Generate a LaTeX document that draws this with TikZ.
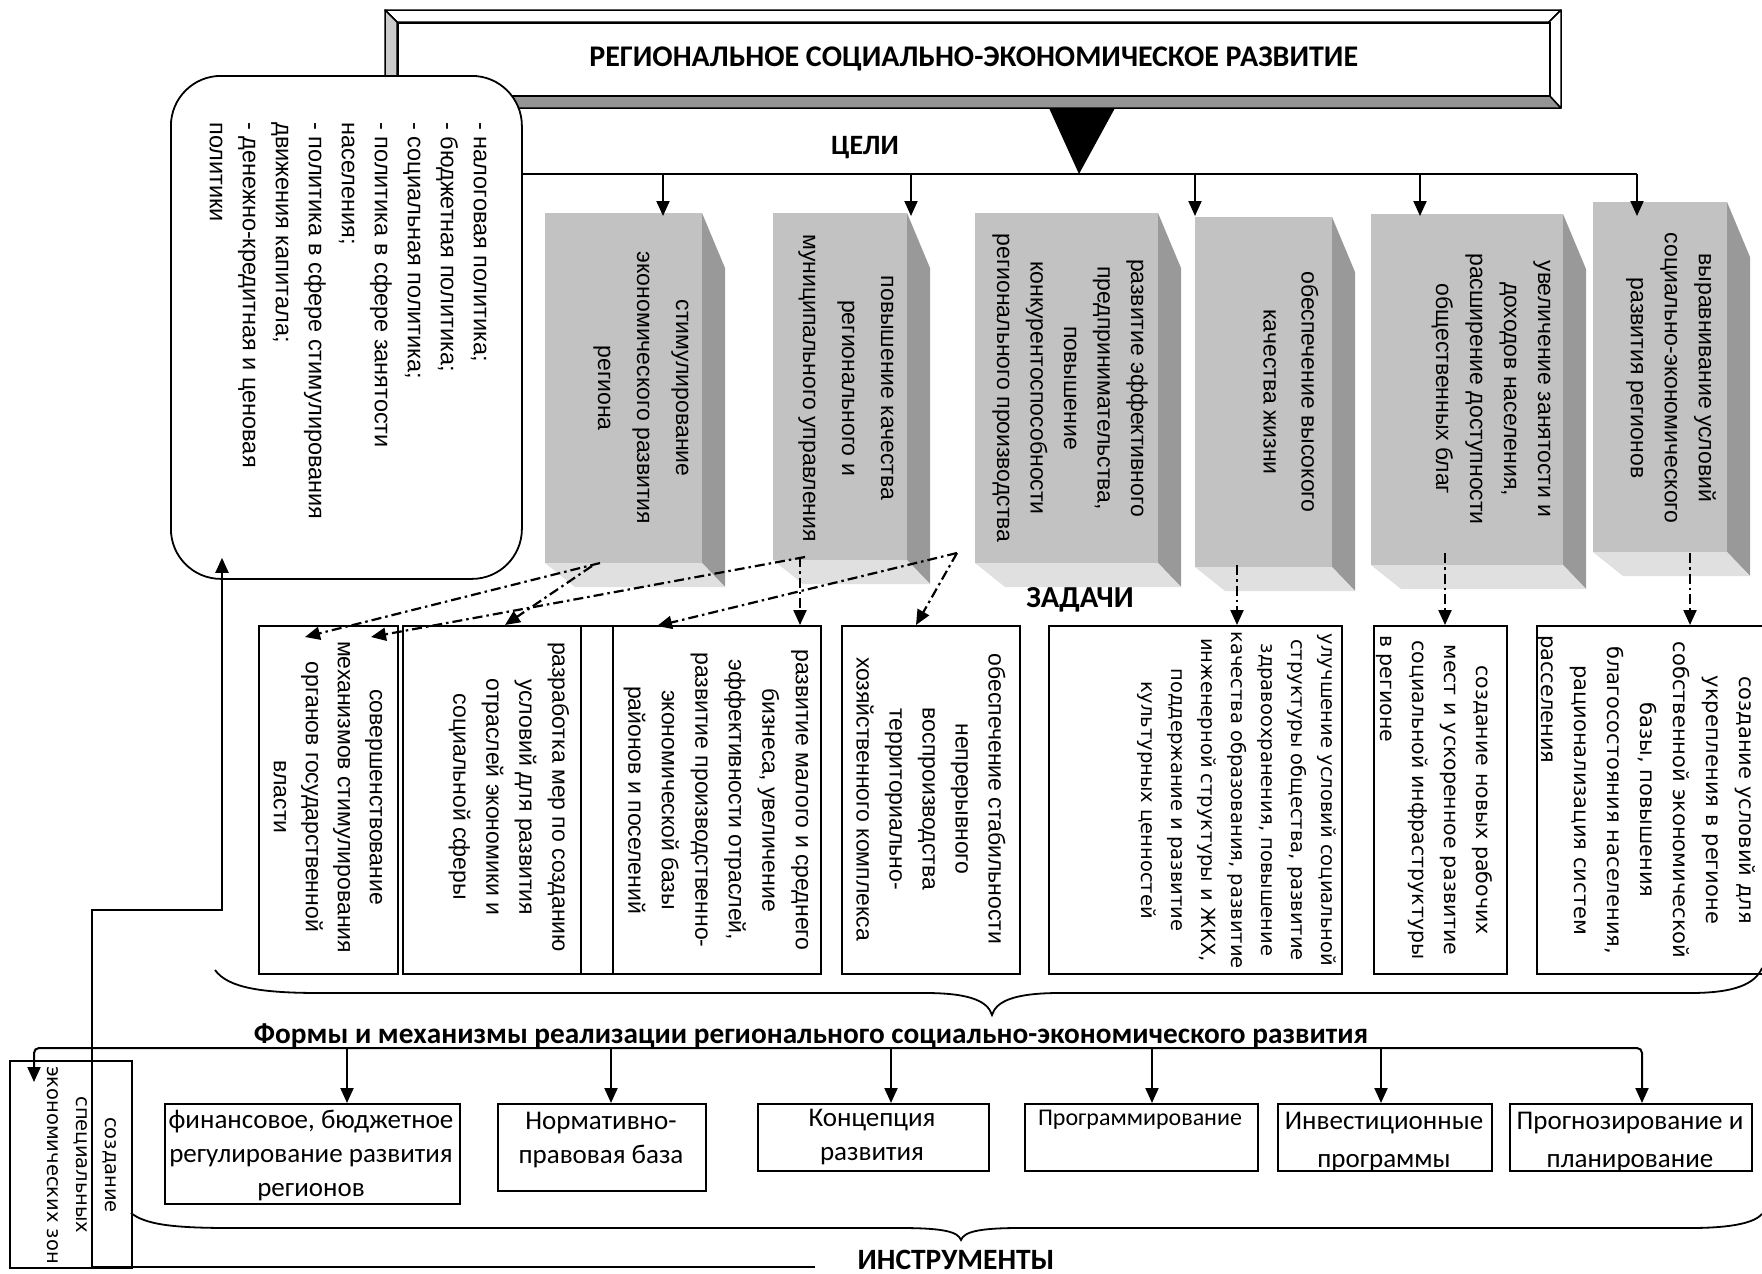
\documentclass[tikz,border=0pt]{standalone}
\usepackage{fontspec}
\setmainfont{Liberation Sans}
\newfontfamily\dvfont{DejaVu Sans}
\newfontfamily\cbfont{Carlito}
\usetikzlibrary{arrows.meta,calc}
\definecolor{gfr}{gray}{0.76}
\definecolor{gsd}{gray}{0.60}
\definecolor{gbt}{gray}{0.88}
\definecolor{bvl}{gray}{0.80}
\definecolor{bvd}{gray}{0.58}
\newcommand{\gbox}[5]{%
  \fill[gsd] (#4,#3) -- ++(23,55) -- (#4+23,#5+24) -- (#4,#5) -- cycle;
  \fill[gbt] (#2,#5) -- (#4,#5) -- (#4+23,#5+24) -- (#2+30,#5+24) -- cycle;
  \node[gfront, anchor=north west, minimum width={(#4-#2)*1pt}, minimum height={(#5-#3)*1pt}] (#1) at (#2,#3) {};
}
\begin{document}
\begin{tikzpicture}[x=1pt,y=-1pt,
  ln/.style={line width=2pt},
  arr/.style={line width=2pt,-{Triangle[length=15pt,width=13pt]}},
  dd/.style={line width=2.2pt, dash pattern=on 10pt off 4pt on 2.5pt off 4pt, -{Triangle[length=15pt,width=13pt]}},
  gfront/.style={fill=gfr, inner sep=0pt, outer sep=0pt},
  taskbox/.style={draw, line width=1.8pt, anchor=north west, inner sep=0pt},
  formbox/.style={draw, line width=1.8pt, anchor=north west, inner sep=0pt},
  rtxt/.style={rotate=-90, align=center, inner sep=0pt},
  hdr/.style={font=\cbfont\bfseries\fontsize{29.5}{31}\selectfont, inner sep=0pt, anchor=base},
  ftxt/.style={align=center, inner sep=0pt, font=\cbfont\fontsize{27}{34}\selectfont}
]
\useasboundingbox (0,0) rectangle (1762,1274);
\fill[white] (0,0) rectangle (1762,1274);

% ---------- banner ----------
\begin{scope}[line width=1.5pt, line join=round]
\filldraw[fill=white] (385,10) -- (1561,10) -- (1549,22) -- (397,22) -- cycle;
\filldraw[fill=bvl] (385,10) -- (397,22) -- (397,95) -- (385,108) -- cycle;
\filldraw[fill=bvd] (385,108) -- (397,95) -- (1549,95) -- (1561,108) -- cycle;
\filldraw[fill=white] (1561,10) -- (1561,108) -- (1549,95) -- (1549,22) -- cycle;
\end{scope}
\node[draw, line width=1.5pt, fill=white, anchor=north west, minimum width=1152pt, minimum height=73pt, inner sep=0pt,
  font=\cbfont\bfseries\fontsize{30}{32}\selectfont] (banner) at (397,22) {РЕГИОНАЛЬНОЕ СОЦИАЛЬНО-ЭКОНОМИЧЕСКОЕ РАЗВИТИЕ};
\coordinate (apex) at (1079,174);
\fill[black] (1049,108) -- (1115,108) -- (apex) -- cycle;
\node[hdr, font=\cbfont\bfseries\fontsize{28}{30}\selectfont] (celi) at (865,154) {ЦЕЛИ};

% ---------- rounded box ----------
\node[draw, line width=1.8pt, fill=white, rounded corners=50pt, anchor=north west, minimum width=351pt, minimum height=503pt] (rb) at (170,75) {};
\node[rotate=-90, align=left, inner sep=0pt, font=\fontsize{23.5}{33}\selectfont] (rbtxt) at (348,321)
 {- налоговая политика;\\- бюджетная политика;\\- социальная политика;\\- политика в сфере занятости\\населения;\\- политика в сфере стимулирования\\движения капитала;\\- денежно-кредитная и ценовая\\политики};

% ---------- goal boxes ----------
\gbox{g1}{545}{213}{702}{563}
\gbox{g2}{773}{213}{907}{560}
\gbox{g3}{975}{213}{1158}{563}
\gbox{g4}{1195}{217}{1332}{567}
\gbox{g5}{1371}{214}{1563}{565}
\gbox{g6}{1593}{202}{1727}{552}

\node[rtxt, font=\fontsize{23}{39}\selectfont] (g1t) at (641,388) {стимулирование\\экономического развития\\региона};
\node[rtxt, font=\fontsize{23}{39}\selectfont] (g2t) at (846,388) {повышение качества\\регионального и\\муниципального управления};
\node[rtxt, font=\fontsize{23}{33.5}\selectfont] (g3t) at (1070,388) {развитие эффективного\\предпринимательства,\\повышение\\конкурентоспособности\\регионального производства};
\node[rtxt, font=\fontsize{23}{38}\selectfont] (g4t) at (1291,392) {обеспечение высокого\\качества жизни};
\node[rtxt, font=\fontsize{23}{34}\selectfont] (g5t) at (1491,389) {увеличение занятости и\\доходов населения,\\расширение доступности\\общественных благ};
\node[rtxt, font=\fontsize{23}{34}\selectfont] (g6t) at (1671,378) {выравнивание условий\\социально-экономического\\развития регионов};

% bus of goals
\coordinate (busL) at (521,174);
\coordinate (busR) at (1637,174);
\draw[ln] (busL) -- (busR);
\foreach \xx in {663, 911, 1195, 1420} {
  \draw[arr] (\xx,174) -- (\xx,216);
}
\draw[arr] (busR) -- (1637,216);

% ---------- tasks ----------
\node[taskbox, minimum width=139pt, minimum height=348pt] (tA) at (258,625) {};
\node[taskbox, minimum width=210pt, minimum height=348pt] (tB) at (402,625) {};
\node[taskbox, minimum width=240pt, minimum height=348pt] (tC) at (580,625) {};
\node[taskbox, minimum width=178pt, minimum height=348pt] (tD) at (841,625) {};
\node[taskbox, minimum width=293pt, minimum height=348pt] (tE) at (1048,625) {};
\node[taskbox, minimum width=133pt, minimum height=348pt] (tF) at (1373,625) {};
\node[taskbox, minimum width=240pt, minimum height=348pt] (tG) at (1536,625) {};

\node[rtxt, font=\fontsize{23}{32}\selectfont] (tAt) at (328,797) {совершенствование\\механизмов стимулирования\\органов государственной\\власти};
\node[rtxt, font=\fontsize{23}{33}\selectfont] (tBt) at (509,797) {разработка мер по созданию\\условий для развития\\отраслей экономики и\\социальной сферы};
\node[rtxt, font=\fontsize{23}{33.5}\selectfont] (tCt) at (716,800) {развитие малого и среднего\\бизнеса, увеличение\\эффективности отраслей,\\развитие производственно-\\экономической базы\\районов и поселений};
\node[rtxt, font=\fontsize{23}{33}\selectfont] (tDt) at (931,799) {обеспечение стабильности\\непрерывного\\воспроизводства\\территориально-\\хозяйственного комплекса};
\node[rtxt, font=\dvfont\fontsize{19.5}{30}\selectfont] (tEt) at (1237,800) {улучшение условий социальной\\структуры общества, развитие\\здравоохранения, повышение\\качества образования, развитие\\инженерной структуры и ЖКХ,\\поддержание и развитие\\культурных ценностей};
\node[rtxt, text width=330pt, font=\dvfont\fontsize{20.5}{32}\selectfont] (tFt) at (1434,800) {создание новых рабочих\\мест и ускоренное развитие\\социальной инфраструктуры\\\makebox[\linewidth][l]{в регионе}};
\node[rtxt, text width=330pt, font=\dvfont\fontsize{21}{33}\selectfont] (tGt) at (1646,800) {создание условий для\\укрепления в регионе\\собственной экономической\\базы, повышения\\благосостояния населения,\\рационализация систем\\\makebox[\linewidth][l]{расселения}};

\node[hdr, font=\cbfont\bfseries\fontsize{30.5}{32}\selectfont] (zadachi) at (1080,607) {ЗАДАЧИ};

% dash-dot links goals -> tasks
\draw[dd] ($(g1.south west)+(55,0)$) -- ($(tA.north west)+(47,12)$);
\draw[dd] ($(g1.south west)+(47,3)$) -- ($(tB.north west)+(103,0)$);
\draw[dd] ($(g2.south west)+(32,-3)$) -- ($(tA.north west)+(113,12)$);
\draw[dd] ($(g3.south west)+(-18,-10)$) -- ($(tC.north west)+(77,1)$);
\draw[dd] ($(g3.south west)+(-18,-10)$) -- ($(tD.north west)+(75,0)$);
\draw[dd] ($(g2.south west)+(27,-3)$) -- ($(tC.north west)+(220,0)$);
\draw[dd] ($(g4.south west)+(42,-2)$) -- ($(tE.north west)+(189,0)$);
\draw[dd] ($(g5.south west)+(74,-12)$) -- ($(tF.north west)+(72,0)$);
\draw[dd] ($(g6.south west)+(97,1)$) -- ($(tG.north west)+(154,0)$);

% brace under tasks
\draw[line width=1.8pt] (215,970) .. controls (228,988) and (262,993) .. (320,993) -- (925,993)
  .. controls (972,993) and (988,1002) .. (992,1015) .. controls (996,1002) and (1012,993) .. (1060,993)
  -- (1690,993) .. controls (1735,993) and (1755,984) .. (1762,968);

\node[hdr, font=\cbfont\bfseries\fontsize{29.3}{31}\selectfont] (forms) at (811,1043) {Формы и механизмы реализации регионального социально-экономического развития};

% ---------- forms ----------
\node[formbox, minimum width=295pt, minimum height=100pt] (f1) at (164,1103) {};
\node[formbox, minimum width=208pt, minimum height=87pt] (f2) at (497,1103) {};
\node[formbox, minimum width=231pt, minimum height=67pt] (f3) at (757,1103) {};
\node[formbox, minimum width=233pt, minimum height=67pt] (f4) at (1024,1103) {};
\node[formbox, minimum width=214pt, minimum height=67pt] (f5) at (1277,1103) {};
\node[formbox, minimum width=242pt, minimum height=67pt] (f6) at (1509,1103) {};

\node[ftxt] (f1t) at (311,1155) {финансовое, бюджетное\\регулирование развития\\регионов};
\node[ftxt] (f2t) at (601,1140) {Нормативно-\\правовая база};
\node[ftxt] (f3t) at (872,1137) {Концепция\\развития};
\node[ftxt, font=\cbfont\fontsize{24}{30}\selectfont] (f4t) at (1140,1120) {Программирование};
\node[ftxt, font=\cbfont\fontsize{27}{39}\selectfont] (f5t) at (1384,1142) {Инвестиционные\\программы};
\node[ftxt, font=\cbfont\fontsize{27}{39}\selectfont] (f6t) at (1630,1142) {Прогнозирование и\\планирование};

% SEZ box
\node[formbox, minimum width=122pt, minimum height=207pt] (sez) at (9,1060) {};
\node[rtxt, font=\dvfont\fontsize{19.5}{29}\selectfont] (sezt) at (82,1165) {создание\\специальных\\экономических зон};

% bus of forms
\coordinate (fL) at (34,1048);
\coordinate (fR) at (1642,1048);
\draw[line width=2pt, {Triangle[length=15pt,width=13pt]}-{Triangle[length=15pt,width=13pt]}, rounded corners=5pt]
  ($(sez.north west)+(25,22)$) -- (fL) -- (fR) -- (fR |- f6.north);
\foreach \xx in {347, 611, 891, 1152, 1381} {
  \draw[arr] (\xx,1048) -- (\xx,1103);
}

% brace under forms
\draw[line width=1.8pt] (131,1213) .. controls (145,1224) and (170,1228) .. (230,1228) -- (900,1228)
  .. controls (945,1228) and (958,1232) .. (961,1240) .. controls (964,1232) and (978,1228) .. (1020,1228)
  -- (1690,1228) .. controls (1735,1228) and (1755,1222) .. (1762,1214);

\node[hdr] (instr) at (956,1269) {ИНСТРУМЕНТЫ};

% link from bottom to rounded box
\coordinate (instrL) at (815,1267);
\draw[line width=2pt, -{Triangle[length=15pt,width=13pt]}] (instrL) -- (92,1267) -- (92,910) -- (222,910) -- ($(rb.south west)+(52,-22)$);
\end{tikzpicture}
\end{document}
